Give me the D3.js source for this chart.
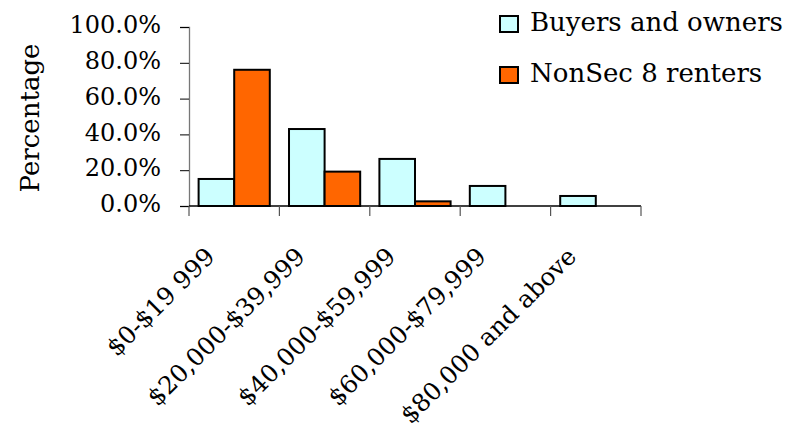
<!DOCTYPE html>
<html>
<head>
<meta charset="utf-8">
<script src="https://cdn.jsdelivr.net/npm/d3@7"></script>
<style>
body { margin: 0; background: #fff; }
svg text { font-family: "DejaVu Serif", serif; fill: #000; }
</style>
</head>
<body>
<div id="chart"></div>
<script>

// data
var categories = ["$0-$19 999", "$20,000-$39,999", "$40,000-$59,999", "$60,000-$79,999", "$80,000 and above"];
var seriesNames = ["Buyers and owners", "NonSec 8 renters"];
var buyers = [15.1, 43.0, 26.3, 11.2, 5.6];
var renters = [76.1, 19.2, 2.6, 0, 0];
var yTicks = [0, 20, 40, 60, 80, 100];
var colors = ["#CCFFFF", "#FF6600"];

var width = 793, height = 435;
// plot box (note: "top" is taken by window.top)
var pLeft = 189, pRight = 641, pTop = 27, pBottom = 206;

var svg = d3.select("#chart").append("svg")
  .attr("width", width)
  .attr("height", height);

var x = d3.scaleBand().domain(categories).range([pLeft, pRight]);
var x1 = d3.scaleBand().domain(seriesNames).range([0, x.bandwidth()]).paddingOuter(0.27);
var y = d3.scaleLinear().domain([0, 100]).range([pBottom, pTop]);

var rows = categories.map(function(c, i) {
  return { cat: c, vals: [buyers[i], renters[i]] };
});

// bars
var groups = svg.selectAll("g.grp").data(rows).enter().append("g")
  .attr("class", "grp")
  .attr("transform", function(d) { return "translate(" + x(d.cat) + ",0)"; });

groups.selectAll("rect")
  .data(function(d) { return d.vals.map(function(v, j) { return { s: seriesNames[j], v: v, j: j }; }).filter(function(e) { return e.v > 0; }); })
  .enter().append("rect")
  .attr("x", function(d) { return x1(d.s); })
  .attr("width", x1.bandwidth())
  .attr("y", function(d) { return y(d.v); })
  .attr("height", function(d) { return y(0) - y(d.v); })
  .attr("fill", function(d) { return colors[d.j]; })
  .attr("stroke", "#000")
  .attr("stroke-width", 2);

// y axis
var yAxis = svg.append("g")
  .attr("transform", "translate(" + pLeft + ",0)")
  .call(d3.axisLeft(y).tickValues(yTicks).tickSize(9).tickPadding(19)
    .tickFormat(function(d) { return d.toFixed(1) + "%"; }));
yAxis.select(".domain").attr("stroke", "#777").attr("stroke-width", 1.3);
yAxis.selectAll("text").style("font-size", "24px").attr("dy", "0.24em");

// x axis
var xAxis = svg.append("g").attr("transform", "translate(0," + pBottom + ")");
xAxis.append("line").attr("x1", pLeft).attr("x2", pRight).attr("stroke", "#000").attr("stroke-width", 1.3);
var bounds = categories.map(function(c) { return x(c); }).concat([pRight]);
xAxis.selectAll("line.tk").data(bounds).enter().append("line")
  .attr("class", "tk")
  .attr("x1", function(d) { return d; }).attr("x2", function(d) { return d; })
  .attr("y1", 0).attr("y2", 10)
  .attr("stroke", "#555").attr("stroke-width", 1.2);

svg.selectAll("text.xl").data(categories).enter().append("text")
  .attr("class", "xl")
  .attr("text-anchor", "end")
  .style("font-size", "24.5px")
  .attr("transform", function(d) {
    return "translate(" + (x(d) + x.bandwidth() / 2 - 18) + ",258) rotate(-45)";
  })
  .text(function(d) { return d; });

// y label
svg.append("text")
  .attr("text-anchor", "middle")
  .style("font-size", "26px")
  .attr("transform", "translate(39,118) rotate(-90)")
  .text("Percentage");

// legend
var legend = svg.selectAll("g.lg").data(seriesNames).enter().append("g")
  .attr("class", "lg")
  .attr("transform", function(d, i) { return "translate(500," + (16 + i * 51) + ")"; });
legend.append("rect")
  .attr("width", 18).attr("height", 16)
  .attr("fill", function(d, i) { return colors[i]; })
  .attr("stroke", "#000").attr("stroke-width", 2);
legend.append("text")
  .attr("x", 30).attr("y", 15)
  .style("font-size", "26px")
  .text(function(d) { return d; });

</script>
</body>
</html>
